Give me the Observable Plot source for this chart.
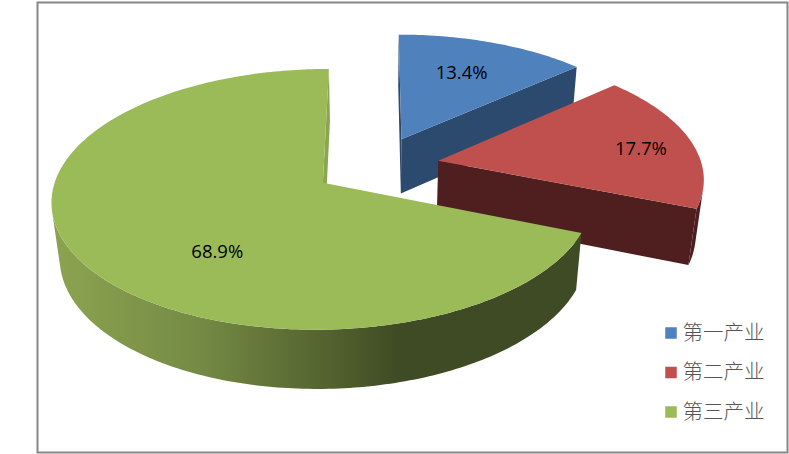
<!DOCTYPE html>
<html><head><meta charset="utf-8">
<script src="https://cdn.jsdelivr.net/npm/d3@7"></script>
<script src="https://cdn.jsdelivr.net/npm/@observablehq/plot@0.6"></script>
<style>html,body{margin:0;padding:0;background:#fff}svg{display:block}</style>
</head><body><div id="chart"></div>
<script>
const categories = ["第一产业", "第二产业", "第三产业"];
const shares = [13.4, 17.7, 68.9];
const topColors = ["#4f81bd", "#c0504d", "#9bbb59"];
const wallColors = ["#2c4a6e", "#4f1f1f", "url(#greenWall)"];
const sideColors = ["#2c4a6e", "#4f1f1f", "#8aa650"];
const greenRampStops = [-1.21, -0.675, -0.18, 0.09];
const greenRampColors = ["#8ba350", "#758b45", "#53622e", "#3f4b24"];
const labelRadius = [0.66, 0.79, 0.62];
const labelTurn = [-1, 3, -21];

// 3D view of the pie, in units of the pie radius
const explode = 0.24, nearness = 0.125, sink = 0.025, thickness = 0.455;
const project = (X, Z, Y = 0) => {
  const w = 1 - nearness * Z + sink * Y;
  return {x: X / w, y: (Z + thickness * Y) / w};
};
const arcs = d3.pie().sort(null).value(d => d)(shares);
const deg = Math.PI / 180;
const isVisible = pts => d3.polygonArea(pts.map(p => [p.x, p.y])) > 0;

const slices = arcs.map((a, i) => {
  const mid = (a.startAngle + a.endAngle) / 2;
  const cx = explode * Math.sin(mid), cz = -explode * Math.cos(mid);
  const rim = t => [cx + Math.sin(t), cz - Math.cos(t)];
  const steps = Math.ceil((a.endAngle - a.startAngle) / deg);
  const ts = d3.range(steps + 1).map(k => a.startAngle + (a.endAngle - a.startAngle) * k / steps);
  const poly = (id, color, pts) => pts.map(p => ({id, color, ...p}));
  const band = (p, q) => [project(...p), project(...q), project(...q, 1), project(...p, 1)];
  const top = poly("top", topColors[i], [project(cx, cz), ...ts.map(t => project(...rim(t)))]);
  const shown = d3.range(steps).filter(k => isVisible(band(rim(ts[k]), rim(ts[k + 1]))));
  let arcWall = [];
  if (shown.length) {
    const wallTs = [...shown.map(k => ts[k]), ts[shown[shown.length - 1] + 1]];
    arcWall = poly("arc", wallColors[i], [
      ...wallTs.map(t => project(...rim(t))),
      ...wallTs.slice().reverse().map(t => project(...rim(t), 1))
    ]);
  }
  const side0 = band([cx, cz], rim(a.startAngle));
  const side1 = band(rim(a.endAngle), [cx, cz]);
  const sides = [
    ...(isVisible(side0) ? poly("s0", sideColors[i], side0) : []),
    ...(isVisible(side1) ? poly("s1", sideColors[i], side1) : [])
  ];
  const lt = mid + labelTurn[i] * deg;
  const lp = project(cx + labelRadius[i] * Math.sin(lt), cz - labelRadius[i] * Math.cos(lt));
  return {walls: [...sides, ...arcWall], arcWall, top, label: {...lp, text: shares[i].toFixed(1) + "%"}};
});

// horizontal shading of the long green wall
const greenExtent = d3.extent(slices[2].arcWall, d => d.x);
const greenGradient = () => {
  const defs = d3.create("svg:defs");
  const g = defs.append("linearGradient").attr("id", "greenWall").attr("x1", 0).attr("x2", 1).attr("y1", 0).attr("y2", 0);
  greenRampStops.forEach((s, i) => g.append("stop")
    .attr("offset", (s - greenExtent[0]) / (greenExtent[1] - greenExtent[0]))
    .attr("stop-color", greenRampColors[i]));
  return defs.node();
};

const fontCJK = "'Noto Sans CJK SC', sans-serif";
const legendRow = [332.5, 372, 411.5];
const marks = [greenGradient];
slices.forEach(s => {
  marks.push(Plot.line(s.walls, {x: "x", y: "y", z: "id", curve: "linear-closed", fill: "color", stroke: "none"}));
  marks.push(Plot.line(s.top, {x: "x", y: "y", z: "id", curve: "linear-closed", fill: "color", stroke: "none"}));
});
marks.push(Plot.text(slices.map(s => s.label), {x: "x", y: "y", text: "text", fill: "#000", fontSize: 18.5, fontFamily: "'Open Sans', sans-serif"}));
categories.forEach((c, i) => {
  marks.push(Plot.dot([c], {frameAnchor: "top-left", dx: 670.5, dy: legendRow[i], symbol: "square", r: 6.5, fill: topColors[i], stroke: "none"}));
  marks.push(Plot.text([c], {frameAnchor: "top-left", dx: 682, dy: legendRow[i], text: d => d, textAnchor: "start", lineAnchor: "middle", fontSize: 20.5, fontFamily: fontCJK, fontWeight: 300, fill: "#555"}));
});
marks.push(Plot.frame({insetLeft: 37, insetTop: 2, insetRight: 2, insetBottom: 2, stroke: "#868686", strokeWidth: 2}));

const chart = Plot.plot({
  width: 789, height: 454, margin: 0,
  x: {domain: [-1, 1], range: [112, 639.5], axis: null},
  y: {domain: [-1, 1], range: [41.3, 289.3], axis: null},
  color: {type: "identity"},
  style: {background: "#fff"},
  marks
});
document.getElementById("chart").appendChild(chart);
</script></body></html>
